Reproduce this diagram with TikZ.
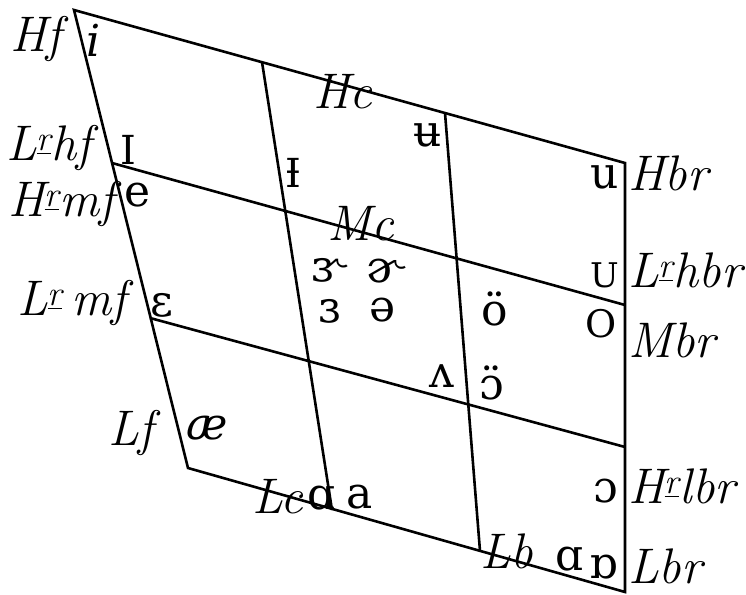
\documentclass[tikz,border=0pt]{standalone}
\usepackage{fontspec}
\newfontfamily\ipafont{DejaVu Serif}
\usepackage{tikz}

\begin{document}
\begin{tikzpicture}[
  x=1pt, y=-1pt,
  grid/.style={line width=2.6pt, line join=miter},
  lbl/.style={font=\fontsize{50}{50}\selectfont\itshape, inner sep=0pt, anchor=base west},
  vow/.style={font=\fontsize{44}{44}\ipafont, inner sep=0pt},
  capvow/.style={font=\fontsize{40}{40}\ipafont, inner sep=0pt}
]
  \useasboundingbox (0,0) rectangle (746,594);
  % corners of the chart
  \coordinate (tl) at (74,10);
  \coordinate (tr) at (625,163);
  \coordinate (br) at (625,592);
  \coordinate (bl) at (188,468);
  \coordinate (l1) at (112,163);
  \coordinate (r1) at (625,305);
  \coordinate (l2) at (150,318);
  \coordinate (r2) at (625,447);
  \coordinate (t1) at (262,62);
  \coordinate (b1) at (332,510);
  \coordinate (t2) at (445,113);
  \coordinate (b2) at (480,551);
  \draw[grid] (tl) -- (tr) -- (br) -- (bl) -- cycle;
  \draw[grid] (l1) -- (r1);
  \draw[grid] (l2) -- (r2);
  \draw[grid] (t1) -- (b1);
  \draw[grid] (t2) -- (b2);

  % labels
  \node[lbl] (hf) at (10,52) {Hf};
  \node[lbl] (lrhf) at (6,160) {L\textsuperscript{\underline{r}}hf};
  \node[lbl] (hrmf) at (8,216) {H\textsuperscript{\underline{r}}mf};
  \node[lbl] (lrmf) at (17,315) {L\textsuperscript{\underline{r}}\,mf};
  \node[lbl] (lf) at (108,445) {Lf};
  \node[lbl] (hc) at (313,108) {Hc};
  \node[lbl] (mc) at (327,240) {Mc};
  \node[lbl] (lc) at (252,513) {Lc};
  \node[lbl] (lb) at (480,568) {Lb};
  \node[lbl] (hbr) at (628,190) {Hbr};
  \node[lbl] (lrhbr) at (628,287) {L\textsuperscript{\underline{r}}hbr};
  \node[lbl] (mbr) at (628,357) {Mbr};
  \node[lbl] (hrlbr) at (628,503) {H\textsuperscript{\underline{r}}lbr};
  \node[lbl] (lbr) at (628,583) {Lbr};

  % vowels
  \node[vow, font=\fontsize{44}{44}\ipafont\itshape] (vi) at (94,40) {i};
  \node[capvow] (vsmi) at (128,150) {I};
  \node[vow] (ve) at (138,195) {e};
  \node[vow] (veps) at (162,305) {ɛ};
  \node[vow, font=\fontsize{44}{44}\ipafont\itshape] (vae) at (207,428) {æ};
  \node[capvow] (vbari) at (293,173) {Ɨ};
  \node[vow] (vbaru) at (428,135) {ʉ};
  \node[vow] (vrevr) at (328,270) {ɝ};
  \node[vow] (vschwar) at (385,271) {ɚ};
  \node[vow] (vrev) at (330,311) {ɜ};
  \node[vow] (vschwa) at (383,310) {ə};
  \node[vow] (voum) at (495,309) {ö};
  \node[vow] (vwedge) at (442,376) {ʌ};
  \node[vow] (vopum) at (492,383) {ɔ̈};
  \node[vow] (vu) at (605,177) {u};
  \node[capvow, font=\fontsize{34}{34}\ipafont] (vsmu) at (605,275) {U};
  \node[capvow, font=\fontsize{38}{38}\ipafont] (vo) at (601,324) {O};
  \node[vow] (vopo) at (606,491) {ɔ};
  \node[vow] (vlca) at (322,498) {ɑ};
  \node[vow] (vlcb) at (360,497) {a};
  \node[vow] (vlba) at (570,559) {ɑ};
  \node[vow] (vlbb) at (604,567) {ɒ};
\end{tikzpicture}
\end{document}
